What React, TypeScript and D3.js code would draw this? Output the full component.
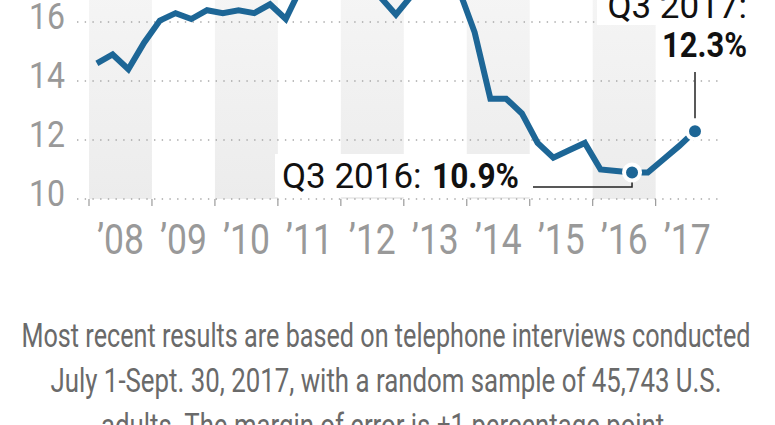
import React from 'react';
import * as d3 from 'd3';

// Uninsured rate, quarterly, Q1 2008 – Q3 2017 (percent)
const years = [2008, 2009, 2010, 2011, 2012, 2013, 2014, 2015, 2016, 2017];
const yearLabels = ['’08', '’09', '’10', '’11', '’12', '’13', '’14', '’15', '’16', '’17'];
const uninsured = [
  14.6, 14.9, 14.4, 15.3,
  16.05, 16.3, 16.1, 16.4,
  16.3, 16.4, 16.3, 16.6,
  16.1, 17.2, 17.3, 17.1,
  17.2, 17.0, 16.85, 16.25,
  16.9, 17.1, 18.0, 17.1,
  15.65, 13.4, 13.4, 12.9,
  11.9, 11.4, 11.65, 11.9,
  11.0, 10.95, 10.9, 10.9,
  11.35, 11.8, 12.3,
];
const yTicks = [10, 12, 14, 16];
const footerLines = [
  'Most recent results are based on telephone interviews conducted',
  'July 1-Sept. 30, 2017, with a random sample of 45,743 U.S.',
  'adults. The margin of error is ±1 percentage point.',
];
const footerWidths = [729, 671, 570];

export default function App() {
  const W = 775;
  const H = 425;
  const x = d3.scaleLinear().domain([2008, 2017.625]).range([89, 695]);
  const y = d3.scaleLinear().domain([10, 16]).range([199, 22]);
  const pts = uninsured.map((v, i) => ({ t: 2008 + i / 4 + 0.125, v }));
  const line = d3
    .line<{ t: number; v: number }>()
    .x((d) => x(d.t))
    .y((d) => y(d.v));

  const p16 = pts[34];
  const p17 = pts[38];
  const blue = '#1d6696';
  const font = "Roboto, 'Noto Sans', sans-serif";
  const narrow = "'Liberation Sans Narrow', Roboto, sans-serif";

  return (
    <div style={{ position: 'absolute', left: 0, top: 0, width: W, height: H, background: '#fff' }}>
      <svg width={W} height={H} style={{ display: 'block', overflow: 'hidden' }}>
        <defs>
          <linearGradient id="band" x1="0" y1="0" x2="0" y2="1">
            <stop offset="0" stopColor="#f5f5f5" />
            <stop offset="1" stopColor="#ececec" />
          </linearGradient>
        </defs>
        {/* alternating year bands */}
        {years.filter((yr, i) => i % 2 === 0).map((yr) => (
          <rect key={yr} x={x(yr)} y={-10} width={x(yr + 1) - x(yr)} height={y(10) + 10} fill="url(#band)" />
        ))}
        {/* gridlines */}
        {yTicks.map((t) => (
          <line key={t} x1={77} x2={723} y1={y(t)} y2={y(t)} stroke="#a8a8a8" strokeWidth={1.3} strokeDasharray="1.4 6.3" />
        ))}
        {/* white label backings */}
        <rect x={275} y={154} width={258} height={43} fill="#fff" />
        <rect x={597} y={-5} width={178} height={30} fill="#fff" />
        {/* x ticks */}
        {years.map((yr) => (
          <line key={yr} x1={x(yr)} x2={x(yr)} y1={y(10)} y2={y(10) + 7} stroke="#9a9a9a" strokeWidth={1.2} />
        ))}
        {/* y labels */}
        {yTicks.map((t) => (
          <text key={t} x={65} y={y(t) + 7} textAnchor="end" fontFamily={font} fontSize={37} fill="#999" textLength={36} lengthAdjust="spacingAndGlyphs">
            {t}
          </text>
        ))}
        {/* year labels */}
        {years.map((yr, i) => (
          <text key={yr} x={x(yr + 0.5)} y={254} textAnchor="middle" fontFamily={font} fontSize={42} fill="#999" textLength={47} lengthAdjust="spacingAndGlyphs">
            {yearLabels[i]}
          </text>
        ))}
        {/* data line */}
        <path d={line(pts) || ''} fill="none" stroke={blue} strokeWidth={6} strokeLinejoin="miter" />
        {/* leaders */}
        <path d={`M533,187H${x(p16.t)}V${y(p16.v) + 9}`} fill="none" stroke="#222" strokeWidth={1.5} />
        <path d={`M${x(p17.t)},72V${y(p17.v) - 13}`} fill="none" stroke="#222" strokeWidth={1.5} />
        {/* dots */}
        <circle cx={x(p16.t)} cy={y(p16.v)} r={8} fill={blue} stroke="#fff" strokeWidth={4} />
        <circle cx={x(p17.t)} cy={y(p17.v)} r={8} fill={blue} stroke="#fff" strokeWidth={4} />
        {/* annotations */}
        <text x={282} y={188} fontFamily={font} fontSize={35} fill="#111">Q3 2016:</text>
        <text x={432} y={188} fontFamily={font} fontSize={35} fontWeight="bold" fill="#111" textLength={87} lengthAdjust="spacingAndGlyphs">10.9%</text>
        <text x={747} y={18} textAnchor="end" fontFamily={font} fontSize={35} fill="#111">Q3 2017:</text>
        <text x={747} y={57} textAnchor="end" fontFamily={font} fontSize={35} fontWeight="bold" fill="#111" textLength={85} lengthAdjust="spacingAndGlyphs">12.3%</text>
        {/* footer */}
        {footerLines.map((s, i) => (
          <text key={i} x={386} y={347 + i * 45} textAnchor="middle" fontFamily={narrow} fontSize={33} fill="#6a6a6a" textLength={footerWidths[i]} lengthAdjust="spacingAndGlyphs">
            {s}
          </text>
        ))}
      </svg>
    </div>
  );
}
